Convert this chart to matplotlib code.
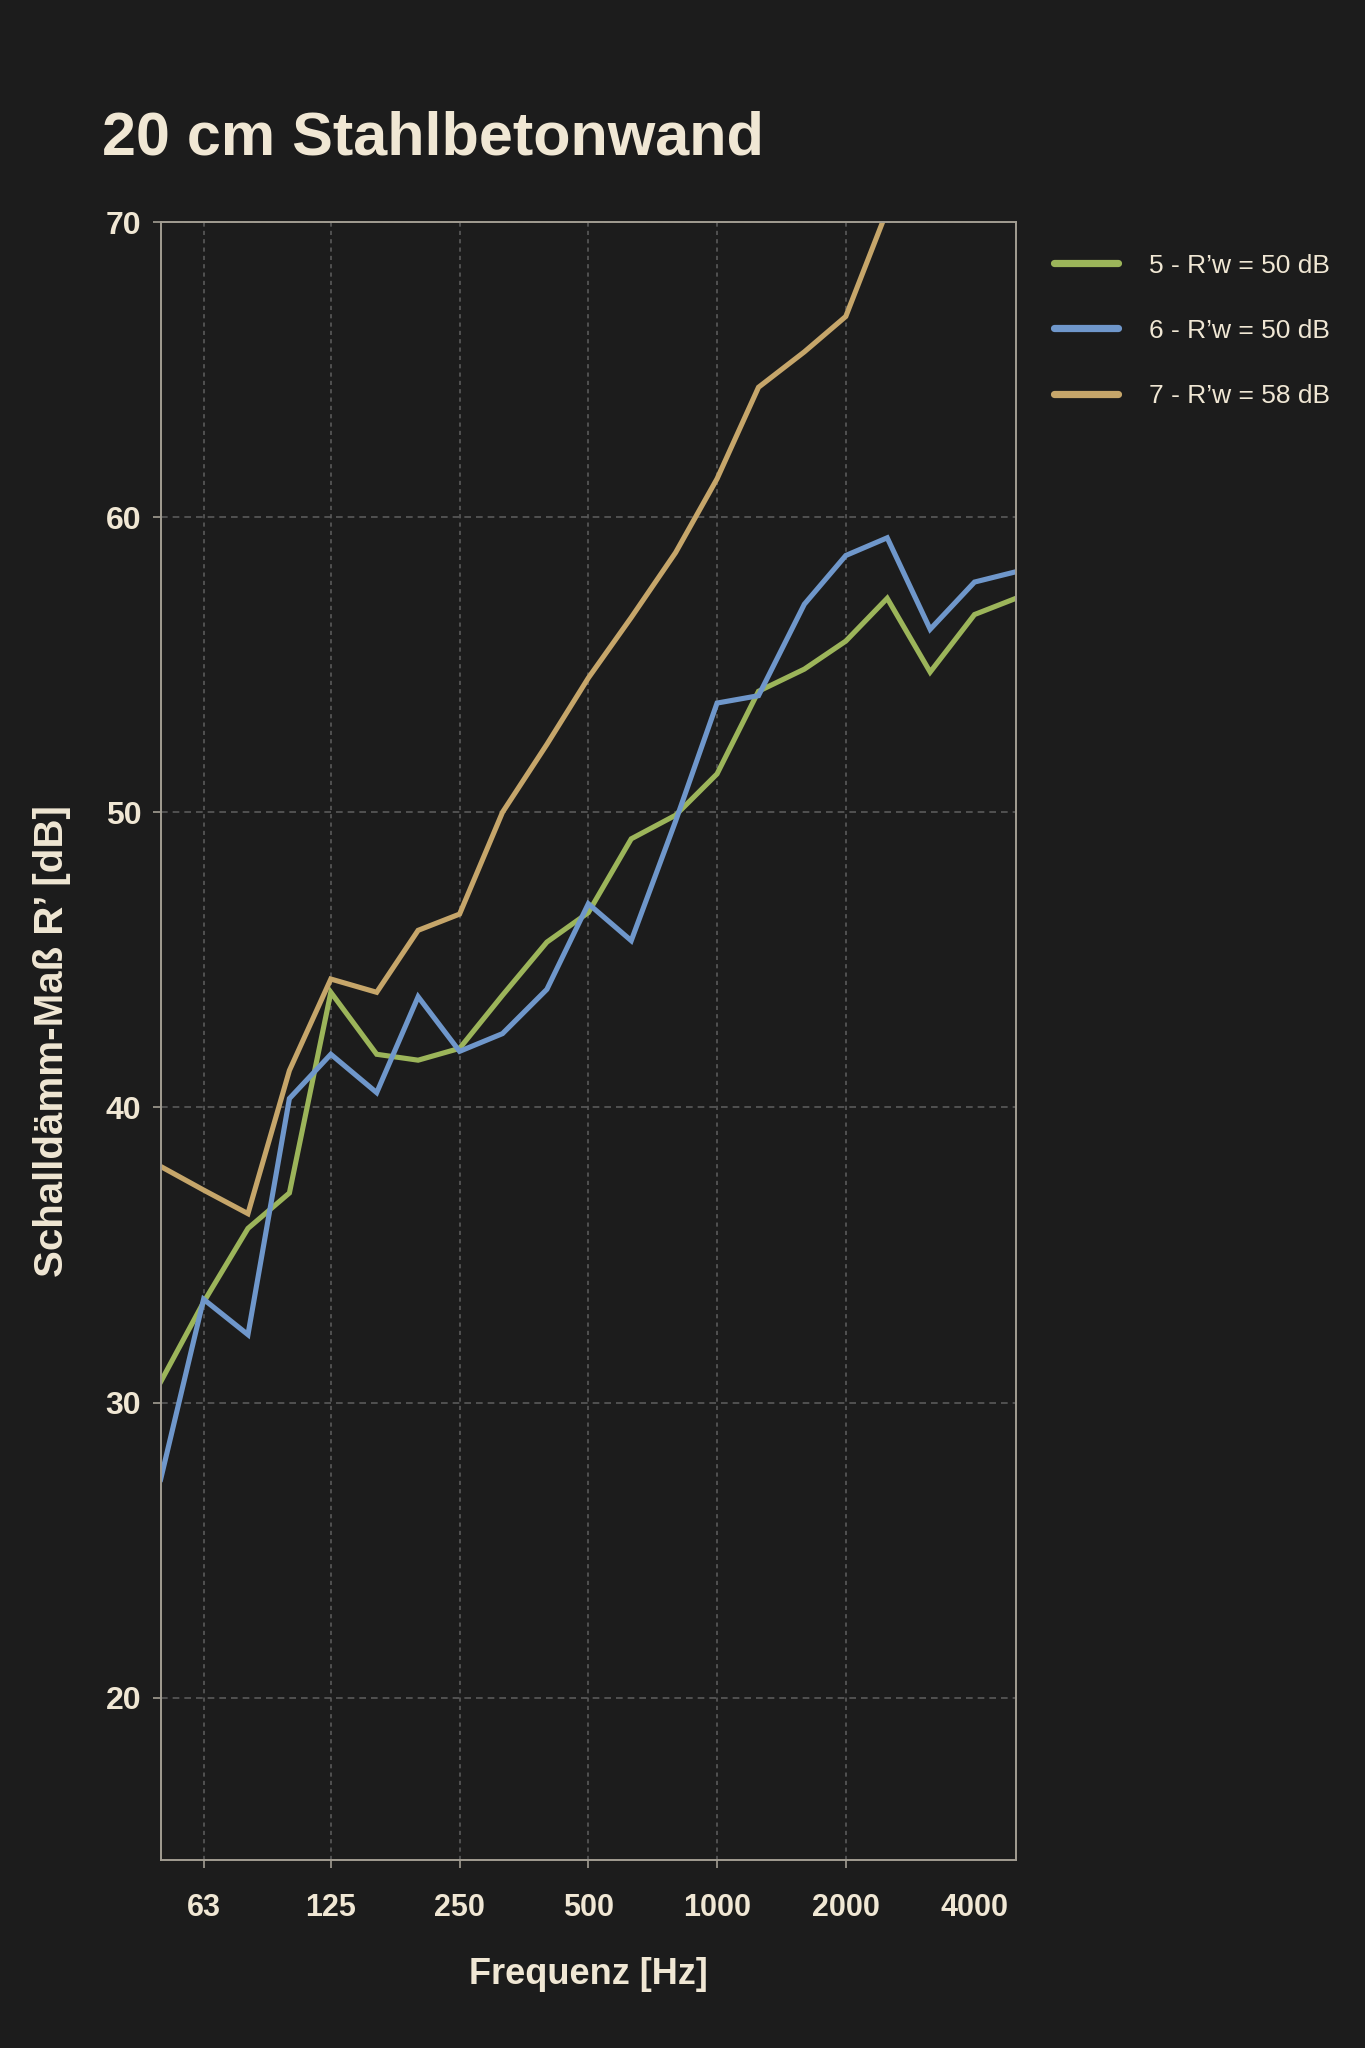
import matplotlib
matplotlib.use("Agg")
import matplotlib.pyplot as plt
from matplotlib.ticker import FixedLocator, FixedFormatter, NullLocator

# Terzband-Mittenfrequenzen
freqs = [50, 63, 80, 100, 125, 160, 200, 250, 315, 400, 500,
         630, 800, 1000, 1250, 1600, 2000, 2500, 3150, 4000, 5000]

r5 = [30.7, 33.4, 35.9, 37.1, 43.9, 41.8, 41.6, 42.0, 43.8, 45.6, 46.6,
      49.1, 49.9, 51.3, 54.1, 54.85, 55.8, 57.25, 54.75, 56.7, 57.25]
r6 = [27.4, 33.5, 32.3, 40.3, 41.8, 40.5, 43.75, 41.9, 42.5, 44.0, 46.9,
      45.65, 49.7, 53.7, 53.95, 57.05, 58.7, 59.3, 56.2, 57.8, 58.15]
r7 = [38.0, 37.2, 36.4, 41.25, 44.35, 43.9, 46.0, 46.55, 50.0, 52.3, 54.55,
      56.6, 58.8, 61.3, 64.4, 65.6, 66.8, 70.4, 72.5, 74.5, 76.0]

labels = ["5 - R\u2019w = 50 dB", "6 - R\u2019w = 50 dB", "7 - R\u2019w = 58 dB"]
colors = ["#9cb55a", "#6f97cb", "#c6a66a"]

xticks = [63, 125, 250, 500, 1000, 2000, 4000]
xticklabels = ["63", "125", "250", "500", "1000", "2000", "4000"]
yticks = [20, 30, 40, 50, 60, 70]

bg = "#1c1c1c"
txt = "#f0e7d4"
spine_c = "#a29d92"
grid_c = "#5a5a5a"

plt.rcParams['font.family'] = ['Liberation Sans', 'DejaVu Sans']

fig = plt.figure(figsize=(13.65, 20.48), dpi=100, facecolor=bg)
ax = fig.add_axes([0.1177, 0.0918, 0.6266, 0.7998])
ax.set_facecolor(bg)

for y, c, lab in zip([r5, r6, r7], colors, labels):
    ax.plot(freqs, y, color=c, lw=3.7, label=lab, solid_joinstyle='miter')

ax.set_xscale('log')
ax.set_xlim(50, 5000)
ax.set_ylim(14.5, 70)
ax.xaxis.set_major_locator(FixedLocator(xticks))
ax.xaxis.set_major_formatter(FixedFormatter(xticklabels))
ax.xaxis.set_minor_locator(NullLocator())
ax.set_yticks(yticks)

ax.grid(axis='y', color=grid_c, lw=1.2, linestyle=(0, (4, 3)))
ax.grid(axis='x', color=grid_c, lw=1.2, linestyle=(0, (2.5, 2.5)))
ax.set_axisbelow(True)

# kein Gitter / Tick bei 4000
last = ax.xaxis.get_major_ticks()[-1]
last.gridline.set_visible(False)
last.tick1line.set_visible(False)

for s in ax.spines.values():
    s.set_color(spine_c)
    s.set_linewidth(1.4)

ax.tick_params(axis='both', colors=spine_c, length=6, width=1.2, direction='out')
ax.tick_params(axis='y', labelsize=23, labelcolor=txt, pad=8)
ax.tick_params(axis='x', labelsize=22, labelcolor=txt, pad=18)
for t in ax.get_yticklabels() + ax.get_xticklabels():
    t.set_fontweight('bold')

ax.set_xlabel("Frequenz [Hz]", fontsize=26, color=txt, fontweight='bold', labelpad=24)
ax.set_ylabel("Schalldämm-Maß R\u2019 [dB]", fontsize=29, color=txt, fontweight='bold', labelpad=25)

fig.text(0.0747, 0.9248, "20 cm Stahlbetonwand", fontsize=44, fontweight='bold',
         color=txt, ha='left', va='baseline')

leg = fig.legend(loc='upper left', bbox_to_anchor=(0.772, 0.8762), frameon=False,
                 borderpad=0, borderaxespad=0,
                 fontsize=19, handlelength=2.45, handletextpad=1.15, labelspacing=1.56)
for h in leg.get_lines():
    h.set_linewidth(5.2)
    h.set_solid_capstyle('round')
for t in leg.get_texts():
    t.set_color(txt)

fig.savefig("out.png", dpi=100, facecolor=bg)
